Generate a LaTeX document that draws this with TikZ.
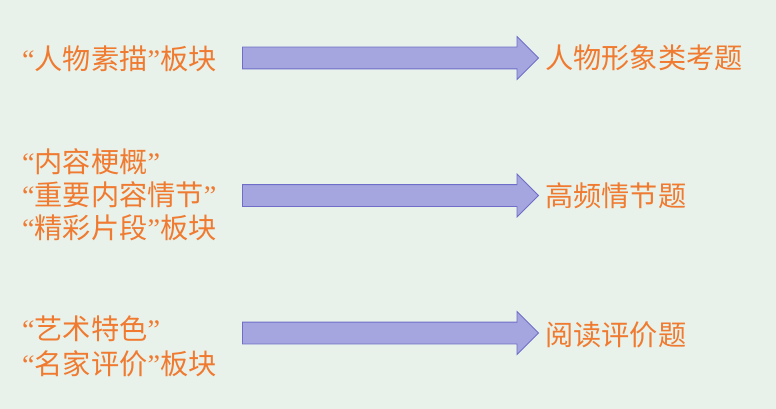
\documentclass[tikz,border=0pt]{standalone}
\usepackage{fontspec}
\setmainfont{Noto Sans CJK SC}
\newfontfamily\quotefont{Liberation Serif}
\newcommand{\openq}{{\quotefont “}}
\newcommand{\closeq}{{\quotefont ”}}
\definecolor{txtorange}{RGB}{240,122,48}
\definecolor{arrfill}{RGB}{165,165,223}
\definecolor{arrdraw}{RGB}{110,110,200}
\definecolor{bggreen}{RGB}{232,242,234}
\usetikzlibrary{shapes,arrows,positioning}

\begin{document}
\begin{tikzpicture}[
            x=1pt, y=-1pt,
            lefttxt/.style={anchor=west, inner sep=0pt, align=left, text=txtorange,
                        font=\fontsize{28.2}{33}\selectfont},
            righttxt/.style={anchor=west, inner sep=0pt, text=txtorange,
                        font=\fontsize{28.2}{33}\selectfont},
            bigarrow/.style={single arrow, draw=arrdraw, fill=arrfill, line width=0.8pt,
                        minimum height=296pt, inner xsep=0pt, inner ysep=10.5pt,
                        single arrow head extend=10.5pt, single arrow head indent=0pt}
        ]
            % Background
            \fill[bggreen] (0,0) rectangle (776,409);
            \useasboundingbox (0,0) rectangle (776,409);

            % Nodes - left column
            \node[lefttxt] (s1) at (22,59) {\openq 人物素描\closeq 板块};
            \node[lefttxt] (s2) at (22,195) {\openq 内容梗概\closeq\\\openq 重要内容情节\closeq\\\openq 精彩片段\closeq 板块};
            \node[lefttxt] (s3) at (22,346) {\openq 艺术特色\closeq\\[2pt]\openq 名家评价\closeq 板块};

            % Arrows
            \node[bigarrow] (a1) at (385,58) {};
            \node[bigarrow] (a2) at (385,195.5) {};
            \node[bigarrow] (a3) at (385,333) {};

            % Nodes - right column
            \node[righttxt, right=6pt of a1] (t1) {人物形象类考题};
            \node[righttxt, right=6pt of a2] (t2) {高频情节题};
            \node[righttxt, right=6pt of a3, yshift=-2pt] (t3) {阅读评价题};
        \end{tikzpicture}
\end{document}
